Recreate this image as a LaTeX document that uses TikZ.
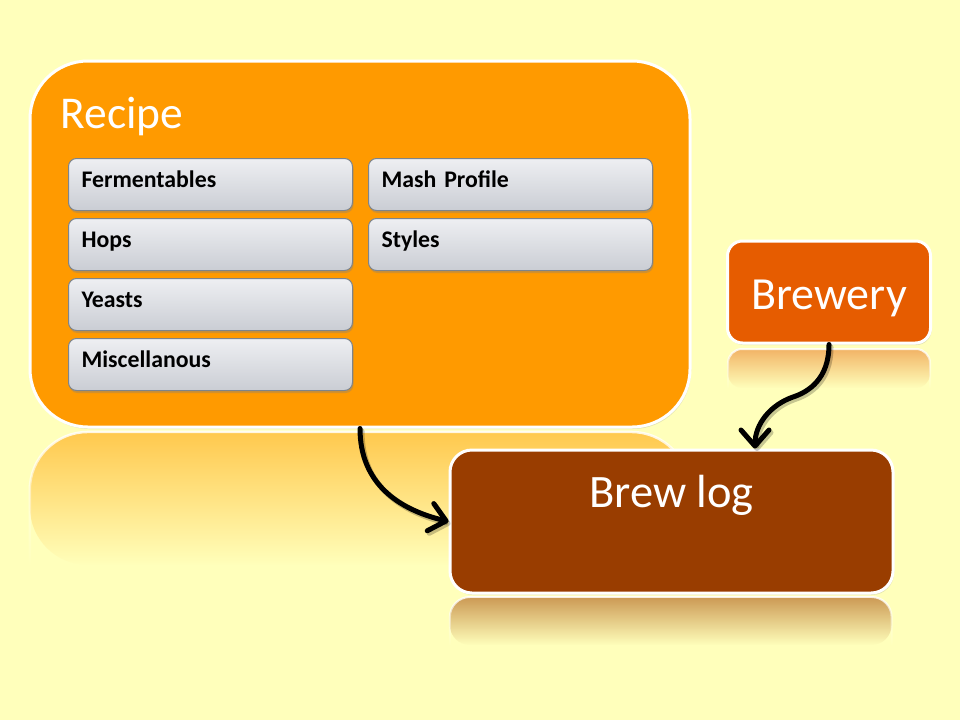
\documentclass[tikz,border=0pt]{standalone}
\usepackage{fontspec}
\setmainfont{Carlito}
\usetikzlibrary{arrows.meta,shadows,fadings}
\definecolor{bg}{HTML}{FFFFBB}
\definecolor{recipeorange}{HTML}{FF9A00}
\definecolor{breweryorange}{HTML}{E65C00}
\definecolor{brewlogbrown}{HTML}{993D00}
\definecolor{reflA}{HTML}{FFC94E}
\definecolor{reflB}{HTML}{F2B466}
\definecolor{reflC}{HTML}{CC9A55}
\definecolor{itemtop}{HTML}{EEEFF2}
\definecolor{itembot}{HTML}{CACDD4}
\definecolor{itemborder}{HTML}{7D848C}
\tikzfading[name=reflfade, top color=transparent!0, bottom color=transparent!100]
\tikzset{
  bigbox/.style={draw=white, line width=3pt, inner sep=0pt, text=white,
    drop shadow={shadow xshift=1pt, shadow yshift=-2pt, opacity=.22}},
  itembox/.style={draw=itemborder, line width=1pt, rounded corners=8pt,
    top color=itemtop, bottom color=itembot, anchor=north west,
    minimum width=284pt, minimum height=52pt, inner xsep=13pt, inner ysep=0pt,
    text width=258pt, align=left, text height=18pt, text depth=12.6pt,
    font=\fontsize{23.8}{26}\selectfont\bfseries,
    drop shadow={shadow xshift=1pt, shadow yshift=-2.5pt, opacity=.35}},
  refl/.style={path fading=reflfade},
  conn/.style={line width=5pt, line cap=round, black,
    -{Straight Barb[length=16pt, width=28pt, round]}},
  connshadow/.style={line width=5pt, line cap=round, black, opacity=.22,
    -{Straight Barb[length=16pt, width=28pt, round]}}
}
\begin{document}
\begin{tikzpicture}[x=1pt,y=-1pt]
\fill[bg] (0,0) rectangle (960,720);
\useasboundingbox (0,0) rectangle (960,720);

% reflections
\fill[refl, reflA, rounded corners=58pt] (30,432) rectangle (690,565);
\draw[refl, white, opacity=.85, line width=2.5pt, rounded corners=58pt]
  (30,565) -- (30,432) -- (690,432) -- (690,565);
\fill[refl, reflB, rounded corners=14pt] (728,349) rectangle (930,388);
\draw[refl, white, opacity=.85, line width=2pt, rounded corners=14pt]
  (728,388) -- (728,349) -- (930,349) -- (930,388);
\fill[refl, reflC, rounded corners=20pt] (450,597) rectangle (892,645);
\draw[refl, white, opacity=.85, line width=2pt, rounded corners=20pt]
  (450,645) -- (450,597) -- (892,597) -- (892,645);

% recipe container
\node[bigbox, fill=recipeorange, rounded corners=58pt,
  minimum width=660pt, minimum height=366pt] (recipe) at (360,244) {};
\node[anchor=base west, inner sep=0pt, text=white,
  font=\fontsize{45.5}{50}\selectfont] (recipetitle) at (60.5,128) {Recipe};

\node[itembox] (ferm) at (68,158) {Fermentables};
\node[itembox] (hops) at (68,218) {Hops};
\node[itembox] (yeasts) at (68,278) {Yeasts};
\node[itembox] (misc) at (68,338) {Miscellanous};
\node[itembox] (mash) at (368,158) {Mash Profile};
\node[itembox] (styles) at (368,218) {Styles};

% brewery
\node[bigbox, fill=breweryorange, rounded corners=15pt,
  minimum width=203pt, minimum height=102pt,
  text height=40pt, text depth=6pt,
  font=\fontsize{46}{50}\selectfont] (brewery) at (829,292) {Brewery};

% brew log
\node[bigbox, fill=brewlogbrown, rounded corners=22pt,
  minimum width=443pt, minimum height=143pt,
  text height=32pt, text depth=61pt,
  font=\fontsize{46.5}{50}\selectfont] (brewlog) at (671.5,521.5) {Brew log};

% connectors
\coordinate (c360) at (360,0);
\coordinate (c755) at (755,0);
\coordinate (bend) at (793,397);

\begin{scope}[transform canvas={shift={(2,2.5)}}]
\draw[connshadow] (recipe.south -| c360) .. controls +(0,55) and +(-50,-12) .. (brewlog.west);
\draw[connshadow] (brewery.south) .. controls +(0,35) and +(15,-5) .. (bend)
  .. controls +(-23,8) and +(0,-24) .. (brewlog.north -| c755);
\end{scope}
\draw[conn] (recipe.south -| c360) .. controls +(0,55) and +(-50,-12) .. (brewlog.west);
\draw[conn] (brewery.south) .. controls +(0,35) and +(15,-5) .. (bend)
  .. controls +(-23,8) and +(0,-24) .. (brewlog.north -| c755);
\end{tikzpicture}
\end{document}
